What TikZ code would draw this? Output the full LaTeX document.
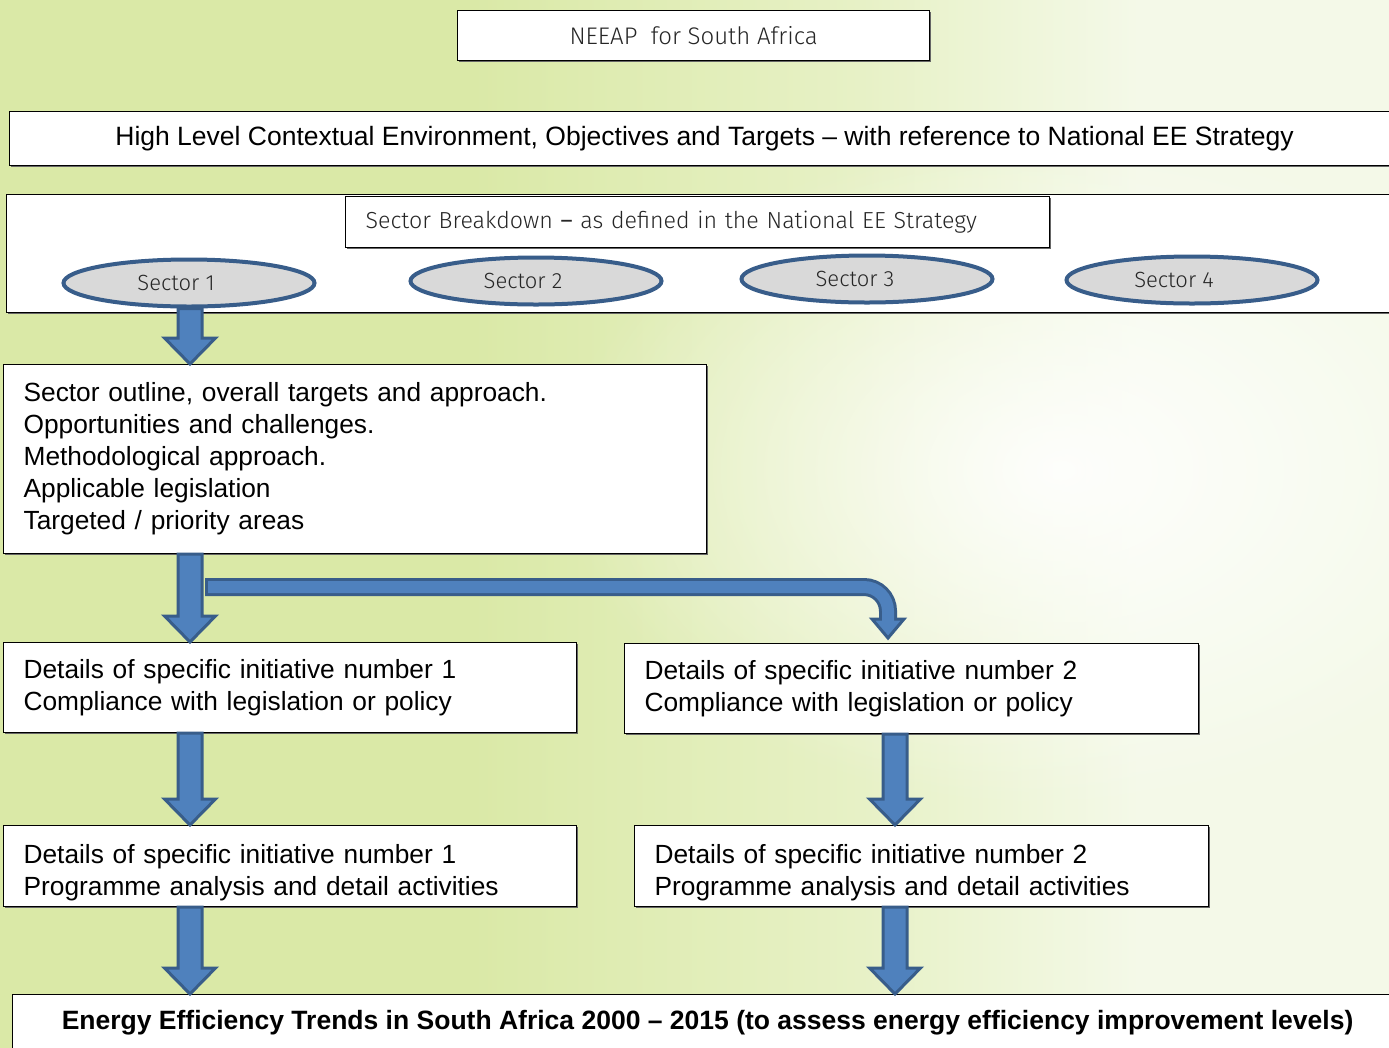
\documentclass[tikz,border=0pt]{standalone}
\usepackage{fontspec}
\setmainfont{Liberation Sans}
\newfontfamily\thinfont{Fira Sans Light}
\usetikzlibrary{calc,shapes.geometric,shadows,fadings}
\tikzfading[name=glowfade, inner color=transparent!0, outer color=transparent!100]
\definecolor{bgL}{RGB}{218,233,167}
\definecolor{bgM}{RGB}{231,241,198}
\definecolor{bgR}{RGB}{244,249,232}
\definecolor{afill}{RGB}{79,129,189}
\definecolor{aborder}{RGB}{56,93,138}
\definecolor{sgray}{RGB}{217,217,217}
\pgfdeclarehorizontalshading{bgshade}{100bp}{color(0bp)=(bgL); color(25bp)=(bgL); color(42bp)=(bgL); color(56bp)=(bgM); color(66bp)=(bgR); color(75bp)=(bgR); color(100bp)=(bgR)}
\newcommand{\blockarrow}[2]{%
  \draw[barrow] let \p1=#1, \p2=#2 in
    (\x1-12pt,\y1) -- (\x1+12pt,\y1) -- (\x1+12pt,\y2+26pt) -- (\x1+25.5pt,\y2+26pt)
    -- (\x1,\y2) -- (\x1-25.5pt,\y2+26pt) -- (\x1-12pt,\y2+26pt) -- cycle;}
\newcommand{\lowerfirst}{\rule{0pt}{33pt}}
\begin{document}
\begin{tikzpicture}[x=1pt,y=-1pt,
  box/.style={draw=black, line width=1.2pt, fill=white, rectangle, inner sep=0pt, anchor=north west,
    drop shadow={shadow xshift=1.2pt, shadow yshift=-1.6pt, fill=black!60, opacity=1}},
  thin/.style={font=\thinfont\fontsize{22}{26}\selectfont, text=black!85},
  body/.style={font=\fontsize{26.3}{32}\selectfont, align=left, inner xsep=20pt},
  sector/.style={ellipse, draw=aborder, line width=4pt, fill=sgray, minimum width=251pt,
    minimum height=47pt, inner sep=0pt, thin},
  barrow/.style={draw=aborder, fill=afill, line width=3pt, line join=miter}]
\useasboundingbox (0,0) rectangle (1389,1047);
\shade[shading=bgshade] (0,0) rectangle (1389,1047);
\begin{scope}
\clip (0,0) rectangle (1389,1047);
\fill[white, opacity=0.9, path fading=glowfade] (1060,470) ellipse (500 and 340);
\end{scope}

\node[box, thin, font=\thinfont\fontsize{24}{28}\selectfont, minimum width=472pt, minimum height=50pt] (neeap) at (457,10) {NEEAP\ \ for South Africa};
\node[box, minimum width=1390pt, minimum height=54pt, font=\fontsize{26.5}{30}\selectfont] (high) at (9,111)
  {High Level Contextual Environment, Objectives and Targets – with reference to National EE Strategy};

\node[box, minimum width=1394pt, minimum height=118pt] (cont) at (6,194) {};
\node[box, thin, font=\thinfont\fontsize{23.2}{26}\selectfont, text width=664pt, inner xsep=20pt, align=left, minimum height=51pt] (brk) at (345,196)
  {Sector Breakdown {\fontspec{Fira Sans}–} as defined in the National EE Strategy};

\node[sector] (s1) at (189,283) {\raisebox{-3pt}{Sector 1}\hspace*{26pt}};
\node[sector] (s2) at (536,281) {\raisebox{-2pt}{Sector 2}\hspace*{26pt}};
\node[sector] (s3) at (867,279) {\raisebox{-2pt}{Sector 3}\hspace*{24pt}};
\node[sector] (s4) at (1192,280) {\raisebox{-2pt}{Sector 4}\hspace*{36pt}};

\coordinate (lx) at (190,0);
\coordinate (rx) at (895,0);
\coordinate (bx) at (888,0);
\coordinate (bs) at (205,587);

\node[box, body, text width=663pt, minimum height=189pt] (outline) at (3,364)
  {Sector outline, overall targets and approach.\\
   Opportunities and challenges.\\
   Methodological approach.\\
   Applicable legislation\\
   Targeted / priority areas};

\node[box, body, text width=533pt, minimum height=90pt] (d1a) at (3,642)
  {Details of specific initiative number 1\\Compliance with legislation or policy};
\node[box, body, text width=534pt, minimum height=90pt] (d2a) at (624,643)
  {Details of specific initiative number 2\\Compliance with legislation or policy};
\node[box, body, text width=533pt, minimum height=81pt] (p1) at (3,825)
  {\lowerfirst Details of specific initiative number 1\\Programme analysis and detail activities};
\node[box, body, text width=534pt, minimum height=81pt] (p2) at (634,825)
  {\lowerfirst Details of specific initiative number 2\\Programme analysis and detail activities};

\node[box, minimum width=1390pt, minimum height=56pt, font=\bfseries\fontsize{26.5}{30}\selectfont] (bottom) at (12,994)
  {Energy Efficiency Trends in South Africa 2000 – 2015 (to assess energy efficiency improvement levels)};

% straight block arrows
\blockarrow{(s1.south -| lx)}{(outline.north -| lx)}
\blockarrow{(outline.south -| lx)}{(d1a.north -| lx)}
\blockarrow{(d1a.south -| lx)}{(p1.north -| lx)}
\blockarrow{(p1.south -| lx)}{(bottom.north -| lx)}
\blockarrow{(d2a.south -| rx)}{(p2.north -| rx)}
\blockarrow{(p2.south -| rx)}{(bottom.north -| rx)}

% bent block arrow
\draw[aborder, line width=18pt, rounded corners=24pt] let \p1=(bs), \p2=($(d2a.north -| bx)+(0,-5)$) in
  (\x1,\y1) -| (\x2,\y2+18pt);
\draw[barrow] let \p2=($(d2a.north -| bx)+(0,-5)$) in
  (\x2,\y2) -- (\x2+16pt,\y2+19pt) -- (\x2-16pt,\y2+19pt) -- cycle;
\draw[afill, line width=12pt, rounded corners=24pt] let \p1=(bs), \p2=($(d2a.north -| bx)+(0,-5)$) in
  (\x1+3pt,\y1) -| (\x2,\y2+16pt);
\end{tikzpicture}
\end{document}
